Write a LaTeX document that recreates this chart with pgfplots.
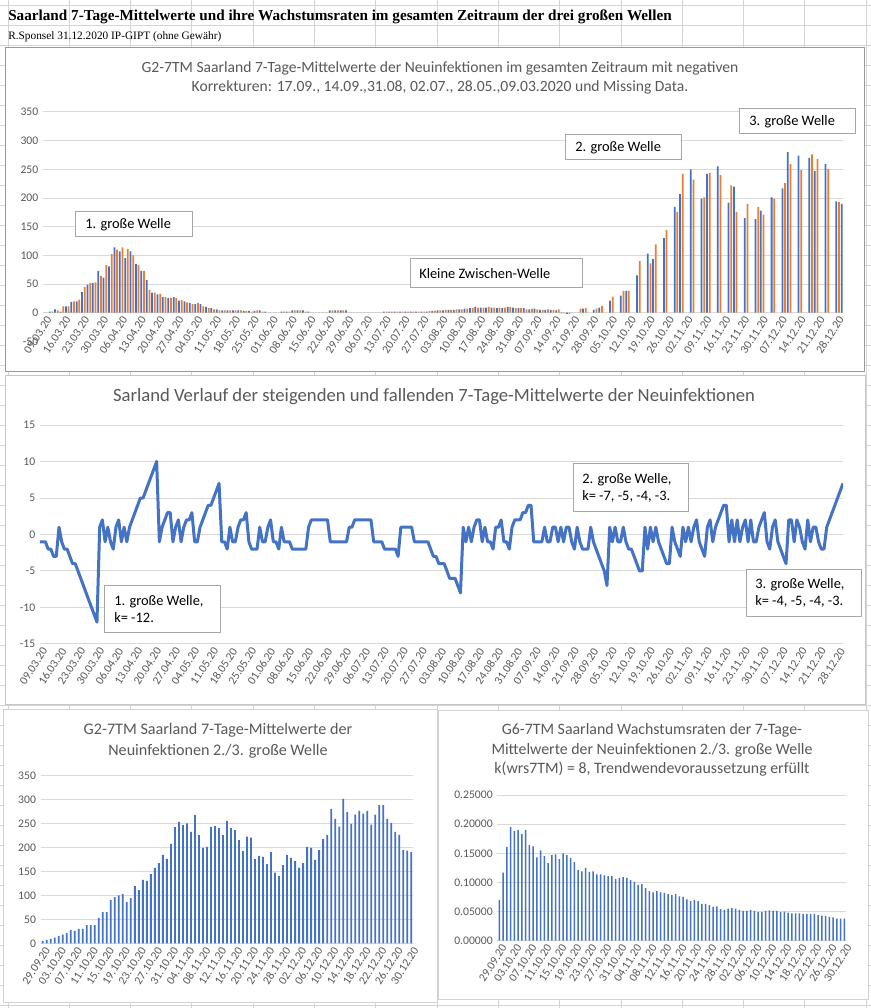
\documentclass[border=0pt]{standalone}
\usepackage{fontspec}
\setmainfont{Carlito}
\newfontfamily\timesf{Liberation Serif}
\usepackage{pgfplots}
\pgfplotsset{compat=1.18}
\usepackage{pgfplotstable}

\definecolor{xblue}{HTML}{4472C4}
\definecolor{xorange}{HTML}{ED7D31}
\definecolor{gridc}{HTML}{D9D9D9}
\definecolor{txt}{HTML}{595959}
\definecolor{cellc}{HTML}{D4D4D4}
\definecolor{boxc}{HTML}{A6A6A6}

% 7-Tage-Mittelwerte 09.03.20 - 30.12.20
\pgfplotstableread[row sep=\\]{v\\
0\\0\\2\\2\\6\\4\\2\\11\\11\\11\\
19\\20\\20\\23\\36\\45\\49\\52\\52\\53\\
73\\64\\61\\83\\81\\102\\114\\110\\107\\114\\
95\\111\\107\\100\\85\\83\\73\\73\\57\\40\\
35\\35\\32\\33\\27\\27\\26\\26\\27\\26\\
21\\22\\20\\18\\17\\15\\15\\17\\15\\11\\
10\\8\\8\\6\\6\\4\\4\\4\\4\\4\\
4\\4\\4\\4\\3\\3\\3\\2\\3\\4\\
4\\2\\2\\0\\0\\0\\0\\0\\2\\2\\
2\\2\\4\\4\\4\\4\\4\\2\\2\\0\\
0\\0\\0\\0\\0\\0\\4\\4\\4\\4\\
4\\4\\4\\0\\0\\0\\0\\0\\0\\0\\
0\\0\\0\\0\\0\\0\\2\\2\\2\\2\\
2\\2\\2\\2\\2\\2\\2\\2\\2\\2\\
2\\2\\2\\3\\3\\3\\4\\4\\4\\5\\
5\\5\\5\\6\\6\\6\\7\\7\\8\\8\\
10\\9\\9\\9\\9\\10\\9\\9\\8\\9\\
8\\9\\10\\10\\9\\8\\8\\8\\8\\6\\
6\\7\\7\\6\\5\\5\\5\\6\\5\\5\\
4\\6\\-1\\-1\\-2\\-2\\0\\0\\0\\7\\
7\\8\\5\\6\\
5\\7\\9\\12\\15\\18\\21\\28\\26\\30\\
30\\38\\38\\38\\53\\65\\65\\90\\96\\100\\
103\\86\\94\\119\\111\\132\\130\\144\\157\\167\\
184\\176\\207\\242\\253\\246\\250\\232\\267\\226\\
199\\201\\242\\244\\240\\226\\255\\240\\236\\215\\
192\\222\\220\\176\\182\\180\\165\\190\\147\\140\\
163\\184\\178\\171\\157\\167\\201\\199\\174\\194\\
217\\226\\280\\259\\243\\301\\274\\249\\268\\276\\
270\\276\\247\\268\\288\\288\\259\\251\\232\\226\\
194\\193\\190\\
}\allwaves

% 2./3. Welle 29.09.20 - 30.12.20
\pgfplotstableread[row sep=\\]{v\\
5\\7\\9\\12\\15\\18\\21\\28\\26\\30\\
30\\38\\38\\38\\53\\65\\65\\90\\96\\100\\
103\\86\\94\\119\\111\\132\\130\\144\\157\\167\\
184\\176\\207\\242\\253\\246\\250\\232\\267\\226\\
199\\201\\242\\244\\240\\226\\255\\240\\236\\215\\
192\\222\\220\\176\\182\\180\\165\\190\\147\\140\\
163\\184\\178\\171\\157\\167\\201\\199\\174\\194\\
217\\226\\280\\259\\243\\301\\274\\249\\268\\276\\
270\\276\\247\\268\\288\\288\\259\\251\\232\\226\\
194\\193\\190\\
}\secondwave

% steigend / fallend (k)
\pgfplotstableread[row sep=\\]{v\\
-1\\-1\\-1\\-2\\-2\\-3\\-3\\1\\-1\\-2\\
-2\\-3\\-4\\-4\\-5\\-6\\-7\\-8\\-9\\-10\\
-11\\-12\\1\\2\\-1\\1\\-1\\-2\\1\\2\\
-1\\1\\-1\\1\\2\\3\\4\\5\\5\\6\\
7\\8\\9\\10\\-1\\1\\2\\3\\3\\-1\\
1\\2\\-1\\1\\2\\2\\3\\-1\\-1\\1\\
2\\3\\4\\4\\5\\6\\7\\-1\\-1\\-2\\
1\\-1\\-1\\1\\2\\2\\3\\-1\\-2\\-2\\
-2\\1\\-1\\-1\\1\\2\\-1\\-1\\-2\\1\\
-1\\-1\\-1\\-2\\-2\\-2\\-2\\-2\\-2\\1\\
2\\2\\2\\2\\2\\2\\2\\-1\\-1\\-1\\
-1\\-1\\-1\\-1\\1\\1\\2\\2\\2\\2\\
2\\2\\2\\-1\\-1\\-1\\-1\\-2\\-2\\-2\\
-2\\-2\\-3\\1\\1\\1\\1\\1\\-1\\-1\\
-1\\-1\\-1\\-1\\-2\\-3\\-3\\-4\\-4\\-4\\
-5\\-6\\-6\\-6\\-7\\-8\\1\\-1\\1\\-1\\
1\\2\\2\\-1\\1\\-1\\-1\\-2\\1\\1\\
2\\-1\\-1\\-2\\1\\2\\2\\2\\3\\3\\
4\\4\\-1\\-1\\-1\\-1\\1\\-1\\-1\\1\\
1\\-1\\1\\-1\\1\\1\\-1\\-2\\1\\-1\\
-2\\-2\\-2\\1\\-1\\-2\\-3\\-4\\-5\\-7\\
1\\-1\\1\\-1\\-1\\1\\-1\\-2\\-2\\-3\\
-4\\-5\\-5\\1\\-2\\1\\-1\\1\\-1\\-2\\
-3\\-4\\-4\\1\\-1\\-2\\-3\\1\\-1\\1\\
-1\\1\\2\\-1\\-2\\-3\\1\\2\\-1\\1\\
2\\3\\4\\4\\-1\\2\\-1\\2\\-1\\1\\
2\\-1\\2\\-1\\-1\\1\\2\\3\\-1\\-2\\
1\\2\\-1\\-2\\-3\\-4\\2\\2\\-1\\2\\
1\\-1\\-2\\2\\-1\\1\\1\\-1\\-2\\-2\\
1\\2\\3\\4\\5\\6\\7\\
}\kdata

% Wachstumsraten 29.09.20 - 30.12.20
\pgfplotstableread[row sep=\\]{v\\
0.070\\0.117\\0.161\\0.195\\0.188\\0.190\\0.183\\0.190\\0.164\\0.162\\
0.143\\0.155\\0.145\\0.133\\0.147\\0.148\\0.140\\0.150\\0.147\\0.142\\
0.135\\0.121\\0.119\\0.125\\0.118\\0.119\\0.114\\0.114\\0.112\\0.111\\
0.111\\0.106\\0.108\\0.109\\0.108\\0.104\\0.101\\0.096\\0.097\\0.090\\
0.085\\0.083\\0.085\\0.083\\0.082\\0.080\\0.078\\0.080\\0.076\\0.075\\
0.071\\0.068\\0.070\\0.068\\0.063\\0.063\\0.061\\0.058\\0.059\\0.054\\
0.053\\0.055\\0.056\\0.055\\0.053\\0.051\\0.051\\0.053\\0.051\\0.049\\
0.049\\0.051\\0.052\\0.051\\0.051\\0.049\\0.050\\0.048\\0.047\\0.047\\
0.047\\0.046\\0.046\\0.046\\0.046\\0.044\\0.043\\0.042\\0.041\\0.040\\
0.038\\0.038\\0.038\\
}\rates

\pgfplotsset{
  xl/.style={scale only axis, anchor=south west,
    ymajorgrids, major grid style={draw=gridc, line width=0.75pt},
    tick style={draw=none}, axis line style={draw=none},
    yticklabel style={font=\fontsize{8.75}{10}\selectfont, text=txt},
    xticklabel style={font=\fontsize{8.75}{10}\selectfont, text=txt, rotate=57,
      anchor=east, inner sep=1pt, yshift=-5pt},
    /pgf/number format/assume math mode=true,
    unbounded coords=discard},
  weekticks/.style={xtick={0,7,...,294},
    xticklabels={09.03.20,16.03.20,23.03.20,30.03.20,06.04.20,13.04.20,20.04.20,27.04.20,
      04.05.20,11.05.20,18.05.20,25.05.20,01.06.20,08.06.20,15.06.20,22.06.20,29.06.20,
      06.07.20,13.07.20,20.07.20,27.07.20,03.08.20,10.08.20,17.08.20,24.08.20,31.08.20,
      07.09.20,14.09.20,21.09.20,28.09.20,05.10.20,12.10.20,19.10.20,26.10.20,02.11.20,
      09.11.20,16.11.20,23.11.20,30.11.20,07.12.20,14.12.20,21.12.20,28.12.20}},
  fourticks/.style={xtick={0,4,...,92},
    xticklabels={29.09.20,03.10.20,07.10.20,11.10.20,15.10.20,19.10.20,23.10.20,27.10.20,
      31.10.20,04.11.20,08.11.20,12.11.20,16.11.20,20.11.20,24.11.20,28.11.20,02.12.20,
      06.12.20,10.12.20,14.12.20,18.12.20,22.12.20,26.12.20,30.12.20}},
}

\newcommand\boxfont{\fontsize{10.8}{13.3}\selectfont}

\begin{document}
\begin{tikzpicture}
\useasboundingbox (0,0) rectangle (653.25pt,756pt);
\fill[white] (0,0) rectangle (653.25pt,756pt);

% Tabellenblatt und Rahmen (Pixelkoordinaten)
\begin{scope}[x=0.75pt,y=-0.75pt,yshift=756pt]
  \foreach \r in {0,...,50} \draw[cellc, line width=0.75pt] (0,6+20*\r) -- (871,6+20*\r);
  \foreach \c in {0,...,14} \draw[cellc, line width=0.75pt] (8+61.3*\c,0) -- (8+61.3*\c,1008);
  \node[anchor=west, inner sep=0pt, font=\timesf\bfseries\fontsize{11.4}{12}\selectfont] at (8,16.5)
    {Saarland 7-Tage-Mittelwerte und ihre Wachstumsraten im gesamten Zeitraum der drei großen Wellen};
  \node[anchor=west, inner sep=0pt, font=\timesf\fontsize{8.5}{10}\selectfont] at (8,37)
    {R.Sponsel 31.12.2020 IP-GIPT (ohne Gewähr)};
  \draw[gray!80, fill=white, line width=0.75pt] (5,48) rectangle (864,372);
  \draw[gray!45, fill=white, line width=0.75pt] (5,376) rectangle (865,705);
  \draw[gray!35, fill=white, line width=0.75pt] (3,710) rectangle (437,1003);
  \draw[gray!35, fill=white, line width=0.75pt] (438,711) rectangle (868,1000);
  % titles
  \node[align=center, text=txt, font=\fontsize{11.7}{14.25}\selectfont] at (440,77.5)
    {G2-7TM Saarland 7-Tage-Mittelwerte der Neuinfektionen im gesamten Zeitraum mit negativen\\
     Korrekturen: 17.09., 14.09.,31.08, 02.07., 28.05.,09.03.2020 und Missing Data.};
  \node[text=txt, font=\fontsize{14}{16}\selectfont] at (434,397)
    {Sarland Verlauf der steigenden und fallenden 7-Tage-Mittelwerte der Neuinfektionen};
  \node[align=center, text=txt, font=\fontsize{12.1}{15.75}\selectfont] at (218,740.5)
    {G2-7TM Saarland 7-Tage-Mittelwerte der\\ Neuinfektionen 2./3. große Welle};
  \node[align=center, text=txt, font=\fontsize{11.9}{14.6}\selectfont] at (652,750)
    {G6-7TM Saarland Wachstumsraten der 7-Tage-\\ Mittelwerte der Neuinfektionen 2./3. große Welle\\
     k(wrs7TM) = 8, Trendwendevoraussetzung erfüllt};
\end{scope}

% G2-7TM gesamter Zeitraum
\begin{axis}[xl, weekticks, at={(32.25pt,499.95pt)}, width=600pt, height=172.05pt,
    xmin=-0.5, xmax=296.5, ymin=-50, ymax=350,
    ytick={0,50,...,350}, extra y ticks={-50}, extra y tick labels={-50},
    extra y tick style={grid=none},
    axis x line*=middle, axis y line*=left,
    x axis line style={draw=gridc, line width=0.75pt, -},
    hide obscured x ticks=false, hide obscured y ticks=false]
  \addplot[ybar, bar width=0.65, bar shift=0pt, fill=xblue, draw=none,
    x filter/.expression={mod(\coordindex,2)==0 ? x : nan}]
    table[x expr=\coordindex, y=v] {\allwaves};
  \addplot[ybar, bar width=0.65, bar shift=0pt, fill=xorange, draw=none,
    x filter/.expression={mod(\coordindex,2)==1 ? x : nan}]
    table[x expr=\coordindex, y=v] {\allwaves};
\end{axis}

% k-Verlauf
\begin{axis}[xl, weekticks, at={(30pt,273pt)}, width=602.25pt, height=164.25pt,
    xmin=0, xmax=296, ymin=-15, ymax=15,
    ytick={-15,-10,...,15}, yticklabels={-15,-10,-5,0,5,10,15}]
  \addplot[xblue, line width=2.25pt, line join=round, mark=none]
    table[x expr=\coordindex, y=v] {\kdata};
\end{axis}

% 2./3. Welle
\begin{axis}[xl, fourticks, at={(30.525pt,48.525pt)}, width=279.45pt, height=126pt,
    xmin=-0.5, xmax=92.5, ymin=0, ymax=350, ytick={0,50,...,350}]
  \addplot[ybar, bar width=0.45, bar shift=0pt, fill=xblue, draw=none]
    table[x expr=\coordindex, y=v] {\secondwave};
\end{axis}

% Wachstumsraten
\begin{axis}[xl, fourticks, at={(373.05pt,50.475pt)}, width=261.6pt, height=109.275pt,
    xmin=-0.5, xmax=92.5, ymin=0, ymax=0.25,
    ytick={0,0.05,0.1,0.15,0.2,0.25},
    yticklabels={0.00000,0.05000,0.10000,0.15000,0.20000,0.25000}]
  \addplot[ybar, bar width=0.4, bar shift=0pt, fill=xblue, draw=none]
    table[x expr=\coordindex, y=v] {\rates};
\end{axis}

% Textfelder
\begin{scope}[x=0.75pt,y=-0.75pt,yshift=756pt]
  \draw[boxc, fill=white, line width=0.75pt] (75,212) rectangle (192,237);
  \node[anchor=west, inner sep=0pt, font=\boxfont] at (85,224.5) {1. große Welle};
  \draw[boxc, fill=white, line width=0.75pt] (410,259) rectangle (582,288);
  \node[anchor=west, inner sep=0pt, font=\boxfont] at (419,273.5) {Kleine Zwischen-Welle};
  \draw[boxc, fill=white, line width=0.75pt] (565,135) rectangle (681,160);
  \node[anchor=west, inner sep=0pt, font=\boxfont] at (575,147.5) {2. große Welle};
  \draw[boxc, fill=white, line width=0.75pt] (739,109) rectangle (855,134);
  \node[anchor=west, inner sep=0pt, font=\boxfont] at (749,121.5) {3. große Welle};

  \draw[boxc, fill=white, line width=0.75pt] (104,586) rectangle (220,633);
  \node[anchor=west, inner sep=0pt, align=left, font=\boxfont] at (114,609)
    {1. große Welle,\\ k= -12.};
  \draw[boxc, fill=white, line width=0.75pt] (573,464) rectangle (688,512);
  \node[anchor=west, inner sep=0pt, align=left, font=\boxfont] at (582,488)
    {2. große Welle,\\ k= -7, -5, -4, -3.};
  \draw[boxc, fill=white, line width=0.75pt] (746,570) rectangle (861,617);
  \node[anchor=west, inner sep=0pt, align=left, font=\boxfont] at (755,593)
    {3. große Welle,\\ k= -4, -5, -4, -3.};
\end{scope}
\end{tikzpicture}
\end{document}
